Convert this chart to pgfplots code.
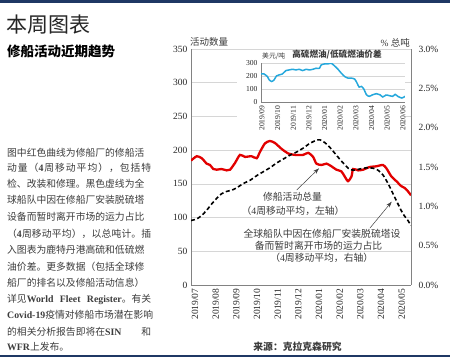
\documentclass[border=0pt]{standalone}
\usepackage{fontspec}
\setmainfont{Liberation Serif}
\newfontfamily\cjk{Noto Sans CJK SC}
\usepackage{pgfplots}
\pgfplotsset{compat=1.18}
\usetikzlibrary{arrows.meta}
\definecolor{navy}{RGB}{31,56,100}
\definecolor{redline}{RGB}{226,0,0}
\definecolor{blueline}{RGB}{38,168,220}
\definecolor{gridc}{RGB}{214,214,214}
\definecolor{axc}{RGB}{130,130,130}
\definecolor{txt}{RGB}{60,60,60}
\newcommand{\pl}[1]{\makebox[144pt][s]{#1}}
\newcommand{\h}{\hskip 0pt plus 1fil\relax}
\begin{document}
\begin{tikzpicture}[x=1pt,y=1pt]
\useasboundingbox (0pt,0pt) rectangle (450pt,360pt);
\fill[white] (0pt,0pt) rectangle (450pt,360pt);
\fill[navy] (0pt,357pt) rectangle (450pt,360pt);
\fill[navy] (0pt,3pt) rectangle (450pt,5.5pt);
\node[anchor=west, inner sep=0pt, font=\cjk\fontsize{21}{21}\selectfont, text=black!85] at (6pt,335pt) {本周图表};
\node[anchor=west, inner sep=0pt, font=\cjk\bfseries\fontsize{13.5}{14}\selectfont] at (7pt,309pt) {修船活动近期趋势};
\begin{scope}[every node/.style={anchor=west, inner sep=0pt, font=\cjk\fontsize{9.8}{10}\selectfont, text=txt}]
\node at (7pt,207.5pt) {\pl{图中红色曲线为修船厂的修船活}};
\node at (7pt,192pt) {\pl{动\h 量\h （{\rmfamily\bfseries 4}\h 周\h 移\h 动\h 平\h 均\h ）\h ，\h 包\h 括\h 特}};
\node at (7pt,176pt) {\pl{检、改装和修理。黑色虚线为全}};
\node at (7pt,160pt) {\pl{球船队中因在修船厂安装脱硫塔}};
\node at (7pt,143.5pt) {\pl{设备而暂时离开市场的运力占比}};
\node at (7pt,126.5pt) {\pl{（{\rmfamily\bfseries 4}\h 周\h 移\h 动\h 平\h 均\h ）\h ，\h 以\h 总\h 吨\h 计\h 。\h 插}};
\node at (7pt,110pt) {\pl{入图表为鹿特丹港高硫和低硫燃}};
\node at (7pt,93.5pt) {\pl{油价差。更多数据（包括全球修}};
\node at (7pt,77pt) {\pl{船厂的排名以及修船活动信息）}};
\node at (7pt,61pt) {\pl{详见{\rmfamily\bfseries World\hfill Fleet\hfill Register}。有关}};
\node at (7pt,45pt) {\pl{{\rmfamily\bfseries Covid-19}疫情对修船市场潜在影响}};
\node at (7pt,28.5pt) {\pl{的相关分析报告即将在{\rmfamily\bfseries SIN}\hfill 和}};
\node at (7pt,13pt) {{\rmfamily\bfseries WFR}上发布。};
\end{scope}
% main chart, left axis (red)
\begin{axis}[
 at={(191pt,75pt)}, anchor=south west, scale only axis, width=220pt, height=236pt,
 xmin=-0.1, xmax=10.55, ymin=0, ymax=350,
 axis x line*=bottom, axis y line*=left,
 axis line style={axc, line width=0.6pt},
 ytick={0,50,100,150,200,250,300,350}, xtick={0,...,10},
 xticklabels={2019/07,2019/08,2019/09,2019/10,2019/11,2019/12,2020/01,2020/02,2020/03,2020/04,2020/05},
 major tick length=0pt,
 ymajorgrids, grid style={gridc,line width=0.6pt},
 tick label style={font=\fontsize{9.5}{10}\selectfont, text=black!85},
 x tick label style={rotate=90, anchor=east, yshift=-2pt},
 /pgf/number format/assume math mode=true,
]
\addplot[redline, line width=2.3pt, smooth, tension=0.4] coordinates {
(-0.1,184.5) (0.18,191) (0.42,188) (0.66,180) (0.82,178) (0.98,172) (1.14,171) (1.38,172) (1.63,170) (1.79,171)
(2.03,181) (2.27,193) (2.51,190) (2.83,191) (3.08,188) (3.24,197.5) (3.48,210) (3.72,213.6) (3.96,210.7) (4.28,202)
(4.61,195) (4.93,193) (5.33,193) (5.57,196) (5.81,190) (5.97,180) (6.22,178) (6.46,180) (6.70,176) (6.94,171)
(7.18,168.5) (7.34,161) (7.50,154) (7.67,161) (7.75,172) (7.99,170) (8.23,171) (8.55,175) (8.87,176) (9.19,178)
(9.36,173) (9.60,161) (9.84,154) (10.08,146.6) (10.24,144) (10.40,139) (10.55,133)};
\end{axis}
% main chart, right axis (dashed)
\begin{axis}[
 at={(191pt,75pt)}, anchor=south west, scale only axis, width=220pt, height=236pt,
 xmin=-0.1, xmax=10.55, ymin=0, ymax=3,
 axis y line*=right, axis x line=none,
 axis line style={axc, line width=0.6pt},
 ytick={0,0.5,1,1.5,2,2.5,3},
 yticklabels={0.0\%,0.5\%,1.0\%,1.5\%,2.0\%,2.5\%,3.0\%},
 major tick length=0pt,
 tick label style={font=\fontsize{9.5}{10}\selectfont, text=black!85},
 y tick label style={xshift=4pt},
]
\addplot[black, line width=1.6pt, dash pattern=on 4pt off 2.6pt, smooth, tension=0.4] coordinates {
(-0.1,0.82) (0.18,0.84) (0.42,0.885) (0.66,0.95) (0.90,1.03) (1.14,1.10) (1.38,1.16) (1.63,1.19) (1.87,1.205) (2.11,1.235)
(2.43,1.29) (2.75,1.33) (3.08,1.39) (3.40,1.44) (3.72,1.49) (4.04,1.55) (4.36,1.60) (4.69,1.65) (5.01,1.69) (5.33,1.74)
(5.65,1.80) (5.97,1.84) (6.15,1.845) (6.38,1.81) (6.62,1.75) (6.86,1.675) (7.10,1.60) (7.34,1.53) (7.58,1.47) (7.83,1.46)
(8.07,1.475) (8.39,1.49) (8.71,1.485) (8.95,1.46) (9.19,1.40) (9.44,1.29) (9.68,1.16) (9.92,1.03) (10.16,0.906) (10.40,0.82) (10.55,0.757)};
\end{axis}
\node[anchor=west, inner sep=0pt, font=\cjk\fontsize{9.5}{10}\selectfont, text=txt] at (190pt,318pt) {活动数量};
\node[anchor=east, inner sep=0pt, font=\fontsize{9.5}{10}\selectfont, text=txt] at (410pt,317pt) {\% {\cjk 总吨}};
% inset
\fill[white] (237pt,224pt) rectangle (405pt,310pt);
\begin{axis}[
 at={(261pt,257.7pt)}, anchor=south west, scale only axis, width=144pt, height=39pt,
 xmin=0, xmax=9.2, ymin=0, ymax=300,
 axis x line*=bottom, axis y line*=left,
 axis line style={axc, line width=0.6pt},
 ytick={0,100,200,300}, xtick={0,...,9},
 xticklabels={2019/09,2019/10,2019/11,2019/12,2020/01,2020/02,2020/03,2020/04,2020/05,2020/06},
 major tick length=0pt,
 ymajorgrids, grid style={gridc,line width=0.6pt},
 tick label style={font=\fontsize{7.6}{8}\selectfont, text=black!85},
 x tick label style={rotate=90, anchor=east, yshift=-1pt},
 /pgf/number format/assume math mode=true,
]
\addplot[blueline, line width=1.5pt, smooth, tension=0.4] coordinates {
(0,218) (0.19,218) (0.41,198) (0.52,173) (0.69,160) (0.84,173) (0.99,203) (1.16,211) (1.37,218) (1.59,244)
(1.80,249) (2.02,254) (2.23,249) (2.45,254) (2.66,244) (2.88,254) (3.09,249) (3.31,254) (3.52,262) (3.74,262)
(3.84,287) (4.06,295) (4.27,295) (4.49,300) (4.70,280) (4.92,254) (5.13,224) (5.35,198) (5.56,186) (5.78,186)
(5.99,178) (6.14,147) (6.27,117) (6.42,122) (6.57,102) (6.74,58) (6.92,46) (7.13,58) (7.39,66) (7.60,58)
(7.78,41) (7.99,56) (8.21,51) (8.42,46) (8.57,61) (8.74,46) (9.00,33) (9.21,46)};
\end{axis}
\node[anchor=west, inner sep=0pt, font=\cjk\fontsize{6.8}{7}\selectfont, text=txt] at (262pt,303.5pt) {美元/吨};
\node[inner sep=0pt, font=\cjk\bfseries\fontsize{8.6}{9}\selectfont, text=txt] at (337pt,305pt) {高硫燃油/低硫燃油价差};
% annotations
\begin{scope}[every node/.style={inner sep=0pt, font=\cjk\fontsize{9.8}{10}\selectfont, text=txt}]
\node at (292.5pt,163pt) {修船活动总量};
\node at (293pt,149pt) {（{\rmfamily 4}周移动平均，左轴）};
\node at (322pt,126pt) {全球船队中因在修船厂安装脱硫塔设};
\node at (318.5pt,114pt) {备而暂时离开市场的运力占比};
\node at (321.7pt,102pt) {（{\rmfamily 4}周移动平均，右轴）};
\end{scope}
\draw[black!75, line width=0.5pt, -{Stealth[length=6pt,width=4pt]}] (296.7pt,170pt) -- (319pt,191.7pt);
\draw[black!75, line width=0.5pt, -{Stealth[length=6pt,width=4pt]}] (370pt,132pt) -- (391.7pt,158.3pt);
\node[inner sep=0pt, font=\cjk\bfseries\fontsize{9.8}{10}\selectfont, text=txt] at (297.5pt,13.5pt) {来源：克拉克森研究};
\end{tikzpicture}
\end{document}
